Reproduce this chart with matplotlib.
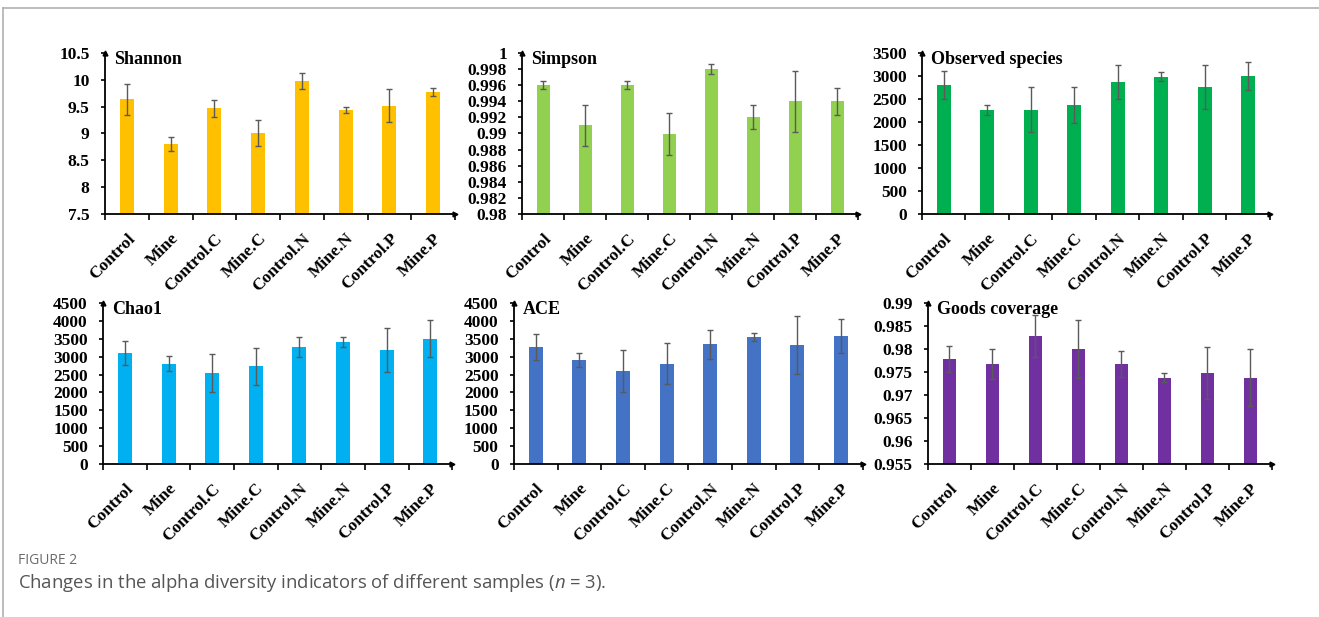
"""Alpha diversity panels (Figure 2) redrawn with matplotlib."""

from __future__ import annotations

import matplotlib

matplotlib.use("Agg")
import matplotlib.pyplot as plt
from matplotlib.lines import Line2D
from matplotlib.ticker import FixedLocator, FuncFormatter
import numpy as np

SAMPLES = ["Control", "Mine", "Control.C", "Mine.C", "Control.N", "Mine.N", "Control.P", "Mine.P"]

SHANNON = [9.64, 8.80, 9.47, 9.01, 9.97, 9.44, 9.52, 9.77]
SHANNON_SD = [0.29, 0.13, 0.16, 0.24, 0.15, 0.06, 0.30, 0.07]

SIMPSON = [0.9960, 0.9910, 0.9960, 0.9899, 0.9980, 0.9920, 0.9940, 0.9940]
SIMPSON_SD = [0.0005, 0.0025, 0.0005, 0.0026, 0.0006, 0.0015, 0.0038, 0.0017]

OBSERVED = [2805, 2267, 2267, 2367, 2869, 2984, 2762, 3006]
OBSERVED_SD = [308, 110, 490, 395, 375, 100, 470, 300]

CHAO1 = [3103, 2808, 2541, 2735, 3260, 3398, 3195, 3499]
CHAO1_SD = [330, 205, 525, 520, 280, 140, 620, 520]

ACE = [3260, 2910, 2597, 2808, 3343, 3554, 3333, 3582]
ACE_SD = [360, 185, 580, 575, 415, 120, 805, 470]

GOODS = [0.9778, 0.9768, 0.9828, 0.9799, 0.9768, 0.9738, 0.9748, 0.9738]
GOODS_SD = [0.0029, 0.0033, 0.0045, 0.0063, 0.0028, 0.0010, 0.0057, 0.0063]

SERIF = "Liberation Serif"
SANS = "Open Sans"


def draw_panel(fig, rect, title, values, errors, color, y_min, y_max, y_step):
    """One bar panel with arrowed axes, error bars and a bold inner title."""

    axis = fig.add_axes(rect)
    positions = np.arange(len(SAMPLES))
    axis.bar(positions, values, width=0.32, color=color, zorder=2)
    axis.errorbar(
        positions, values, yerr=errors, fmt="none", ecolor="#5a5a5a",
        elinewidth=1.0, capsize=2.5, capthick=1.0, zorder=3,
    )
    axis.set_xlim(-0.5, len(SAMPLES) - 0.5)
    axis.set_ylim(y_min, y_max)

    ticks = np.arange(y_min, y_max + y_step / 2, y_step)
    axis.yaxis.set_major_locator(FixedLocator(ticks))
    axis.yaxis.set_major_formatter(FuncFormatter(lambda v, _: f"{round(v, 4):g}"))
    axis.set_xticks(positions)
    axis.set_xticklabels(SAMPLES, rotation=45, ha="right", rotation_mode="anchor")
    axis.set_xticks(np.arange(len(SAMPLES) + 1) - 0.5, minor=True)

    axis.tick_params(axis="x", which="major", length=0, pad=12)
    axis.tick_params(axis="x", which="minor", length=4, width=1.2, direction="out")
    axis.tick_params(axis="y", length=3, width=1.2, direction="out", pad=8)
    for label in axis.get_xticklabels() + axis.get_yticklabels():
        label.set_fontfamily(SERIF)
        label.set_fontweight("bold")
        label.set_fontsize(12.5)

    for side in ("top", "right"):
        axis.spines[side].set_visible(False)
    for side in ("left", "bottom"):
        axis.spines[side].set_linewidth(1.3)

    axis.plot([0], [1], marker="^", markersize=3.5, color="black",
              transform=axis.transAxes, clip_on=False)
    axis.plot([1], [0], marker=">", markersize=3.5, color="black",
              transform=axis.transAxes, clip_on=False)

    axis.text(0.025, 1.015, title, transform=axis.transAxes, ha="left", va="top",
              fontfamily=SERIF, fontweight="bold", fontsize=13)
    return axis


def main() -> None:
    plt.rcParams["mathtext.fontset"] = "custom"
    plt.rcParams["mathtext.it"] = f"{SANS}:italic"
    plt.rcParams["mathtext.rm"] = SANS

    fig = plt.figure(figsize=(13.19, 6.17), dpi=100)

    top_row = [0.6532, 0.2609]
    low_row = [0.2480, 0.2609]

    draw_panel(fig, [0.0796, top_row[0], 0.2654, top_row[1]], "Shannon",
               SHANNON, SHANNON_SD, "#FFC000", 7.5, 10.5, 0.5)
    draw_panel(fig, [0.3960, top_row[0], 0.2547, top_row[1]], "Simpson",
               SIMPSON, SIMPSON_SD, "#92D050", 0.98, 1.0, 0.002)
    draw_panel(fig, [0.6990, top_row[0], 0.2638, top_row[1]], "Observed species",
               OBSERVED, OBSERVED_SD, "#00B050", 0, 3500, 500)
    draw_panel(fig, [0.0782, low_row[0], 0.2646, low_row[1]], "Chao1",
               CHAO1, CHAO1_SD, "#00B0F0", 0, 4500, 500)
    draw_panel(fig, [0.3896, low_row[0], 0.2646, low_row[1]], "ACE",
               ACE, ACE_SD, "#4472C4", 0, 4500, 500)
    draw_panel(fig, [0.7035, low_row[0], 0.2608, low_row[1]], "Goods coverage",
               GOODS, GOODS_SD, "#7030A0", 0.955, 0.99, 0.005)

    # page frame: grey rule on top and on the left
    fig.add_artist(Line2D([0.0023, 1.0], [0.987, 0.987], transform=fig.transFigure,
                          color="#b0b0b0", linewidth=1.2))
    fig.add_artist(Line2D([0.0023, 0.0023], [0.0, 0.987], transform=fig.transFigure,
                          color="#b0b0b0", linewidth=1.2))

    fig.text(0.0136, 1 - 561 / 617, "FIGURE 2", fontfamily=SANS, fontsize=10,
             color="#6a6a6a", va="center", ha="left")
    fig.text(0.0136, 1 - 583 / 617,
             r"Changes in the alpha diversity indicators of different samples ($\it{n}$ = 3).",
             fontfamily=SANS, fontsize=13.3, color="#555555", va="center", ha="left")

    fig.savefig("out.png", dpi=100, facecolor="white")
    plt.close(fig)


if __name__ == "__main__":
    main()
